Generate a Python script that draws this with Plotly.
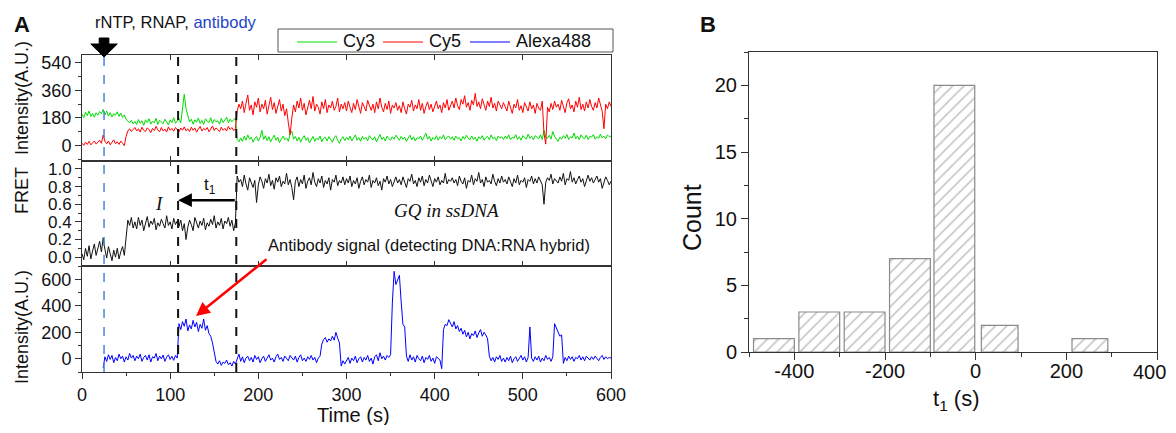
import plotly.graph_objects as go

# --- panel A: single-molecule time traces, sampled every 2 s ---
time_s = list(range(0, 601, 2))

cy3 = [205, 182, 218, 195, 226, 190, 210, 185, 214, 198, 222, 208, 236, 200, 225, 192, 215, 186, 208, 198, 220, 190, 212, 184, 200, 172, 160, 148, 165, 142,
       158, 138, 170, 145, 162, 132, 168, 150, 175, 140, 160, 148, 178, 138, 165, 152, 142, 172, 155, 135, 168, 150, 182, 145, 160, 175, 148, 250, 335, 240,
       190, 155, 172, 140, 168, 152, 180, 145, 165, 138, 175, 158, 150, 182, 143, 170, 155, 162, 140, 178, 150, 168, 185, 148, 172, 155, 165, 180, 40, 25,
       50, 28, 62, 35, 70, 42, 55, 22, 48, 60, 30, 52, 100, 40, 65, 32, 58, 25, 48, 68, 35, 55, 20, 45, 62, 38, 50, 28, 75, 95,
       42, 60, 30, 55, 22, 48, 65, 35, 52, 18, 45, 60, 28, 50, 38, 62, 25, 48, 55, 30, 58, 40, 22, 50, 65, 35, 15, 45, 58, 32,
       55, 38, 62, 30, 48, 70, 35, 52, 28, 60, 42, 55, 32, 65, 45, 38, 58, 25, 50, 72, 40, 55, 30, 62, 45, 35, 58, 42, 68, 48,
       35, 60, 42, 55, 28, 50, 68, 38, 58, 30, 52, 45, 62, 35, 55, 80, 42, 60, 30, 52, 40, 65, 35, 58, 45, 70, 38, 55, 62, 42,
       58, 35, 62, 45, 52, 30, 60, 42, 68, 48, 38, 62, 40, 55, 28, 58, 45, 65, 35, 52, 60, 38, 70, 45, 55, 32, 62, 48, 58, 40,
       62, 45, 70, 38, 55, 48, 72, 40, 58, 35, 65, 50, 42, 75, 48, 60, 38, 65, 52, 45, 70, 40, 100, 55, 48, 68, 42, 92, 60, 45,
       28, 55, 42, 65, 48, 72, 40, 58, 50, 82, 45, 62, 38, 70, 52, 45, 68, 40, 60, 55, 72, 42, 58, 48, 75, 50, 62, 45, 70, 58,
       62]

cy5 = [15, 2, 22, 8, 28, 5, 18, 30, 10, 25, 35, 15, 70, 28, 12, 30, 5, 22, 38, 12, 25, 8, 30, 15, 0, 60, 95, 110, 92, 105,
       118, 95, 110, 88, 120, 100, 92, 115, 105, 85, 112, 98, 125, 102, 90, 118, 95, 108, 88, 122, 100, 112, 94, 118, 105, 90, 115, 100, 122, 96,
       110, 92, 120, 100, 115, 88, 108, 125, 95, 112, 102, 118, 90, 110, 128, 98, 115, 105, 92, 120, 100, 112, 95, 125, 105, 118, 98, 110, 225, 270,
       240, 290, 215, 275, 330, 230, 265, 200, 285, 250, 310, 220, 270, 240, 295, 205, 260, 315, 235, 280, 210, 255, 300, 225, 270, 195, 240, 150, 70, 180,
       265, 220, 290, 245, 310, 230, 275, 200, 255, 295, 240, 320, 225, 270, 250, 205, 285, 240, 300, 215, 265, 245, 290, 230, 255, 310, 220, 270, 240, 280,
       225, 290, 250, 215, 275, 235, 300, 260, 210, 280, 245, 225, 295, 255, 230, 270, 215, 285, 240, 310, 250, 220, 275, 235, 290, 210, 265, 245, 280, 230,
       260, 215, 285, 240, 205, 270, 250, 295, 225, 265, 240, 300, 230, 275, 210, 255, 285, 235, 270, 220, 250, 290, 240, 265, 215, 280, 245, 300, 230, 260,
       290, 245, 310, 260, 235, 300, 270, 325, 250, 280, 230, 295, 265, 340, 255, 285, 240, 305, 270, 230, 290, 255, 315, 245, 275, 225, 290, 260, 240, 280,
       255, 225, 290, 240, 210, 270, 245, 300, 230, 260, 215, 280, 250, 225, 285, 240, 265, 210, 275, 245, 230, 290, 80, 10, 250, 220, 275, 235, 290, 250,
       270, 230, 295, 250, 215, 280, 305, 240, 265, 220, 290, 250, 315, 235, 270, 225, 285, 245, 300, 255, 230, 280, 245, 310, 260, 225, 110, 270, 240, 285,
       255]

fret = [0.04, -0.03, 0.10, 0.01, 0.13, -0.02, 0.07, 0.15, 0.02, 0.11, 0.18, 0.06, 0.22, 0.09, -0.01, 0.12, 0.03, -0.04, 0.08, 0.00, 0.10, -0.02, 0.06, 0.12, 0.02, 0.25, 0.42, 0.36, 0.45, 0.33,
        0.40, 0.32, 0.45, 0.36, 0.42, 0.30, 0.39, 0.46, 0.34, 0.41, 0.37, 0.44, 0.31, 0.39, 0.35, 0.43, 0.38, 0.33, 0.47, 0.36, 0.40, 0.32, 0.44, 0.37, 0.41, 0.35, 0.42, 0.30, 0.38, 0.20,
        0.34, 0.42, 0.37, 0.30, 0.45, 0.38, 0.33, 0.41, 0.36, 0.44, 0.31, 0.39, 0.35, 0.43, 0.37, 0.47, 0.33, 0.40, 0.36, 0.44, 0.32, 0.41, 0.38, 0.45, 0.35, 0.42, 0.30, 0.39, 0.92, 0.85,
        0.88, 0.80, 0.93, 0.83, 0.76, 0.90, 0.84, 0.79, 0.87, 0.62, 0.82, 0.91, 0.86, 0.78, 0.89, 0.84, 0.94, 0.81, 0.87, 0.77, 0.90, 0.85, 0.92, 0.80, 0.86, 0.83, 0.95, 0.82, 0.88, 0.79,
        0.65, 0.86, 0.91, 0.80, 0.88, 0.83, 0.93, 0.78, 0.86, 0.90, 0.82, 0.96, 0.85, 0.80, 0.89, 0.84, 0.92, 0.79, 0.87, 0.83, 0.90, 0.76, 0.88, 0.85, 0.93, 0.81, 0.87, 0.84, 0.91, 0.82,
        0.89, 0.84, 0.92, 0.80, 0.87, 0.83, 0.90, 0.78, 0.86, 0.91, 0.82, 0.88, 0.85, 0.93, 0.79, 0.87, 0.84, 0.90, 0.81, 0.86, 0.76, 0.89, 0.85, 0.92, 0.83, 0.88, 0.80, 0.87, 0.91, 0.84,
        0.88, 0.82, 0.91, 0.85, 0.79, 0.89, 0.86, 0.94, 0.83, 0.87, 0.80, 0.90, 0.85, 0.92, 0.81, 0.88, 0.84, 0.93, 0.86, 0.80, 0.89, 0.85, 0.91, 0.82, 0.87, 0.84, 0.95, 0.83, 0.88, 0.86,
        0.90, 0.84, 0.88, 0.81, 0.92, 0.86, 0.83, 0.90, 0.78, 0.87, 0.85, 0.93, 0.82, 0.89, 0.86, 0.96, 0.84, 0.88, 0.80, 0.91, 0.85, 0.87, 0.83, 0.94, 0.86, 0.81, 0.89, 0.84, 0.92, 0.85,
        0.88, 0.83, 0.91, 0.86, 0.80, 0.89, 0.84, 0.93, 0.82, 0.87, 0.85, 0.90, 0.79, 0.88, 0.86, 0.92, 0.83, 0.89, 0.84, 0.91, 0.86, 0.82, 0.60, 0.85, 0.90, 0.87, 0.94, 0.83, 0.89, 0.86,
        0.84, 0.91, 0.86, 0.95, 0.82, 0.89, 0.87, 0.97, 0.85, 0.90, 0.83, 0.88, 0.92, 0.85, 0.89, 0.80, 0.87, 0.93, 0.86, 0.90, 0.84, 0.88, 0.92, 0.85, 0.89, 0.78, 0.86, 0.91, 0.87, 0.82,
        0.86]

alexa488 = [None] * 12 + [
    -70, 15, -20, 30, -5, 25, -30, 10, -15, 35, 0, 20, -25, 15, -10, 40, 5, 25,
    -15, 20, 0, 35, -20, 10, 25, -10, 30, -25, 15, 5, 40, -15, 20, 0, 28, -20, 12, 30, -5, 18, -12, 25, 5, 265, 220, 280, 245, 300,
    210, 255, 225, 290, 240, 275, 205, 260, 230, 300, 215, 250, 190, 170, 120, 40, -20, -40, -15, -50, -25, -35, -10, -45, -30, -55, -20, -40, -5, 35,
    -20, 15, -30, 5, 20, -15, 10, -25, 25, -5, 15, -30, 0, 20, -20, 10, 30, -10, 5, -25, 15, 35, -5, 10, -20, 20, 0, -15, 25, 5,
    -10, 20, -25, 10, 30, -15, 5, -20, 15, -5, 25, -10, 10, -30, 5, 20, 110, 145, 160, 125, 150, 135, 170, 140, 200, 155, 120, -55, -15, -40,
    -20, 10, -35, 5, -15, 20, -30, 0, 15, -25, 10, -10, 25, -20, 5, -40, 15, 30, -15, 45, 0, 20, -10, 25, 10, 30, 420, 660, 560, 600,
    630, 430, 260, 240, 20, -20, 30, -10, 15, -25, 25, 0, -15, 20, -30, 10, -5, 25, -20, 5, -35, 15, 0, -10, -75, 220, 260, 250, 295, 270,
    240, 280, 225, 250, 205, 230, 185, 215, 165, 200, 150, 190, 175, 210, 160, 195, 220, 170, 200, 180, 150, 20, -15, 10, -25, 15, -5, 25, -20, 5,
    -25, 10, -15, 20, -30, 0, 15, -20, 5, 25, -10, 15, -25, 10, 240, 5, -20, 15, -10, 20, -25, 5, -15, 25, -5, 10, -20, 15, 265, 230,
    200, 170, 180, -35, 10, -15, 20, -5, 15, -20, 10, 0, 25, -10, 15, -15, 20, 5, -10, 15, -5, 20, 0, -15, 10, 25, -5, 15, 0, 10,
    5]

assert all(len(s) == len(time_s) for s in (cy3, cy5, fret, alexa488))

# event times (s)
antibody_time = 25
t1_start = 109
t1_end = 175

# --- panel B: histogram of t1 ---
t1_centers = [-445, -345, -245, -145, -47, 53, 252]
t1_counts = [1, 3, 3, 7, 20, 2, 1]
bar_widths = [90, 90, 90, 90, 90, 81, 79]
b_ticks = [-400, -200, 0, 200, 400]
b_ticklabels = ['-400', '-200', '0', '200', '400']

channels = ['Cy3', 'Cy5', 'Alexa488']
channel_colors = {'Cy3': '#00dd00', 'Cy5': '#ff0000', 'Alexa488': '#0000ff'}

FONT = "Arial, 'Liberation Sans', sans-serif"
AX = '#333333'

# the page puts the figure 8 px in from the top-left corner; the figure is sized so the
# page does not overflow, layout is worked out in screen pixels and mapped here
OFF, W, H = 8, 1160, 417


def px(x):
    return (x - OFF) / W


def py(y):
    return 1 - (y - OFF) / H


fig = go.Figure()
fig.add_trace(go.Scatter(x=time_s, y=cy3, mode='lines', name='Cy3',
                         line=dict(color=channel_colors['Cy3'], width=1), xaxis='x3', yaxis='y3'))
fig.add_trace(go.Scatter(x=time_s, y=cy5, mode='lines', name='Cy5',
                         line=dict(color=channel_colors['Cy5'], width=1), xaxis='x3', yaxis='y3'))
fig.add_trace(go.Scatter(x=time_s, y=fret, mode='lines', name='FRET',
                         line=dict(color='#111111', width=1), xaxis='x2', yaxis='y2'))
fig.add_trace(go.Scatter(x=time_s, y=alexa488, mode='lines', name='Alexa488',
                         line=dict(color=channel_colors['Alexa488'], width=1), xaxis='x', yaxis='y'))
fig.add_trace(go.Bar(x=t1_centers, y=t1_counts, width=bar_widths, name='t1',
                     marker=dict(color='white', line=dict(color='#8a8a8a', width=1.2),
                                 pattern=dict(shape='/', fgcolor='#8c8c8c', size=8, solidity=0.2)),
                     xaxis='x4', yaxis='y4'))

xa_dom = [px(82), px(611)]
common = dict(showline=True, linecolor=AX, linewidth=1, showgrid=False, zeroline=False, automargin=False,
              tickcolor=AX, tickfont=dict(size=18, color='#111'))
common_b = {**common, 'tickfont': dict(size=20, color='#111')}

# last B tick label would be clipped at the right edge; it is drawn as an annotation instead
b_ticktext = b_ticklabels[:-1] + ['']

fig.update_layout(
    width=W, height=H,
    margin=dict(l=0, r=0, t=0, b=0, autoexpand=False),
    paper_bgcolor='white', plot_bgcolor='white',
    font=dict(family=FONT, color='#111'),
    showlegend=False,
    xaxis=dict(domain=xa_dom, anchor='y', range=[0, 600], dtick=100, ticks='outside', ticklen=6,
               minor=dict(dtick=50, ticks='outside', ticklen=3, tickcolor=AX), mirror=True, **common),
    xaxis2=dict(domain=xa_dom, anchor='y2', matches='x', range=[0, 600], dtick=100, ticks='inside', ticklen=5,
                showticklabels=False, mirror='ticks', **common),
    xaxis3=dict(domain=xa_dom, anchor='y3', matches='x', range=[0, 600], dtick=100, ticks='inside', ticklen=5,
                showticklabels=False, mirror='ticks', **common),
    yaxis=dict(domain=[py(372), py(266)], anchor='x', range=[-100, 700], tickvals=[0, 200, 400, 600],
               ticks='outside', ticklen=6, minor=dict(dtick=100, ticks='outside', ticklen=3, tickcolor=AX),
               mirror=True, **common),
    yaxis2=dict(domain=[py(266), py(161)], anchor='x2', range=[-0.1, 1.09], tickvals=[0, 0.2, 0.4, 0.6, 0.8, 1.0],
                tickformat='.1f', ticks='outside', ticklen=6,
                minor=dict(dtick=0.1, ticks='outside', ticklen=3, tickcolor=AX), mirror=True,
                **{**common, 'tickfont': dict(size=17, color='#111')}),
    yaxis3=dict(domain=[py(161), py(55)], anchor='x3', range=[-100, 590], tickvals=[0, 180, 360, 540],
                ticks='outside', ticklen=6, minor=dict(dtick=90, ticks='outside', ticklen=3, tickcolor=AX),
                mirror=True, **common),
    xaxis4=dict(domain=[px(749), px(1157)], anchor='y4', range=[-500, 400], tickvals=b_ticks, ticktext=b_ticktext,
                ticks='outside', ticklen=7, ticklabelstandoff=-6,
                minor=dict(dtick=100, ticks='outside', ticklen=4, tickcolor=AX),
                mirror=True, **common_b),
    yaxis4=dict(domain=[py(352), py(52)], anchor='x4', range=[0, 22.5], tickvals=[0, 5, 10, 15, 20],
                ticks='outside', ticklen=7, minor=dict(dtick=2.5, ticks='outside', ticklen=4, tickcolor=AX),
                mirror=True, **common_b),
)

# compact boxed key above panel A (plotly's own legend box is too tall here)
fig.add_shape(type='rect', xref='paper', yref='paper', x0=px(278), x1=px(613), y0=py(52), y1=py(29),
              line=dict(color='#555', width=1), fillcolor='white')
key_x = [297, 383, 470]
for name, kx in zip(channels, key_x):
    fig.add_shape(type='line', xref='paper', yref='paper', x0=px(kx), x1=px(kx + 40), y0=py(42), y1=py(42),
                  line=dict(color=channel_colors[name], width=1))
    fig.add_annotation(text=name, x=px(kx + 44), y=py(41), xref='paper', yref='paper', showarrow=False,
                       xanchor='left', yanchor='middle', font=dict(size=18, family=FONT, color='#111'))

# dashed event lines across the three traces
for t, col, w in [(antibody_time, '#4a86d8', 1.5), (t1_start, '#111', 2), (t1_end, '#111', 2)]:
    fig.add_shape(type='line', xref='x', yref='paper', x0=t, x1=t, y0=py(372), y1=py(56),
                  line=dict(color=col, width=w, dash='dash'))

# block arrow marking injection
a = antibody_time
y_top, y_neck, y_tip = py(38), py(44), py(57)
arrow_path = (f'M {a - 5.5},{y_top} L {a + 5.5},{y_top} L {a + 5.5},{y_neck} L {a + 15},{y_neck} '
              f'L {a},{y_tip} L {a - 15},{y_neck} L {a - 5.5},{y_neck} Z')
fig.add_shape(type='path', xref='x', yref='paper', path=arrow_path,
              fillcolor='black', line=dict(color='black', width=1))

ann = [
    dict(text='<b>A</b>', x=22, y=25, size=22),
    dict(text='<b>B</b>', x=708, y=25, size=22),
    dict(text="rNTP, RNAP, <span style='color:#2244cc'>antibody</span>", x=176, y=22, size=16.5),
    dict(text='Intensity(A.U.)', x=22, y=98, size=18, angle=-90),
    dict(text='FRET', x=22, y=191, size=18, angle=-90),
    dict(text='Intensity(A.U.)', x=22, y=327, size=18, angle=-90),
    dict(text='Time (s)', x=353, y=415, size=20),
    dict(text='Count', x=692, y=218, size=25, angle=-90),
    dict(text='t<sub>1</sub> (s)', x=956, y=400, size=22),
    dict(text='t<sub>1</sub>', x=210, y=186, size=17),
    dict(text='Antibody signal (detecting DNA:RNA hybrid)', x=429, y=245, size=16.5),
]
for d in ann:
    fig.add_annotation(text=d['text'], x=px(d['x']), y=py(d['y']), xref='paper', yref='paper', showarrow=False,
                       textangle=d.get('angle', 0), font=dict(size=d['size'], family=FONT, color='#111'),
                       xanchor='center', yanchor='middle')
fig.add_annotation(text=b_ticklabels[-1], x=1.0, y=py(372), xref='paper', yref='paper', showarrow=False,
                   xanchor='right', yanchor='middle', font=dict(size=20, family=FONT, color='#111'))

serif = "'Liberation Serif', 'DejaVu Serif', serif"
fig.add_annotation(text='<i>I</i>', x=px(153), y=py(204), xref='paper', yref='paper',
                   showarrow=False, font=dict(size=19, family=serif, color='#111'))
fig.add_annotation(text='<i>GQ in ssDNA</i>', x=px(446), y=py(210), xref='paper', yref='paper',
                   showarrow=False, font=dict(size=19, family=serif, color='#111'))

# t1 arrow (FRET panel)
fig.add_annotation(x=t1_start, y=0.646, ax=t1_end, ay=0.646, xref='x2', yref='y2', axref='x2', ayref='y2',
                   text='', showarrow=True, arrowhead=2, arrowsize=1.1, arrowwidth=2.5, arrowcolor='black')
# red arrow pointing at the antibody signal
fig.add_annotation(x=px(196), y=py(316), xref='paper', yref='paper', ax=72, ay=-58, text='', showarrow=True,
                   arrowhead=2, arrowsize=1.1, arrowwidth=2.5, arrowcolor='#ff0000')

fig.write_html("out.html")
